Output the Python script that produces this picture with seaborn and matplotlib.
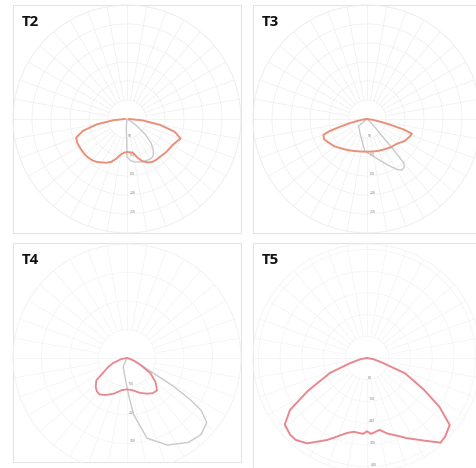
import numpy as np
import matplotlib
matplotlib.use("Agg")
import matplotlib.pyplot as plt
from matplotlib.patches import Rectangle
import seaborn as sns

# Light distribution curves, angle from nadir in degrees (+ = right), values in cd/klm
t2_red_ang = [-90, -85, -80, -75, -70, -65, -60, -55, -50, -45, -40, -35, -30, -25, -20, -15, -10, -5, 0,
              5, 10, 15, 20, 25, 30, 35, 40, 45, 50, 55, 60, 65, 70, 75, 80, 85, 90]
t2_red_val = [5, 35, 80, 120, 142, 145, 145, 145, 145, 144, 142, 138, 132, 127, 120, 108, 95, 89, 87,
              88, 90, 105, 118, 126, 131, 132, 132, 133, 135, 136, 138, 143, 150, 130, 88, 40, 5]
t2_gray_ang = [-10, -5, 0, 5, 10, 20, 30, 35, 40, 45, 50, 55, 60, 65]
t2_gray_val = [0, 20, 100, 110, 115, 120, 122, 120, 108, 90, 62, 32, 10, 0]

t3_red_ang = [-90, -82, -78, -76, -74, -72, -70, -65, -60, -50, -40, -30, -20, -10, 0,
              10, 20, 30, 40, 50, 60, 68, 72, 74, 76, 78, 82, 90]
t3_red_val = [0, 12, 30, 50, 75, 105, 122, 125, 120, 112, 102, 95, 90, 87, 86,
              87, 89, 92, 97, 102, 115, 122, 124, 100, 65, 40, 15, 0]
t3_gray_ang = [-55, -50, -40, -27, -15, -4, 0, 10, 17, 25, 30, 34, 38, 40, 41, 42, 44, 48, 55]
t3_gray_val = [0, 30, 32, 41, 55, 85, 88, 100, 113, 135, 152, 163, 160, 150, 100, 50, 30, 10, 0]

t4_red_ang = [-90, -80, -70, -64, -58, -54, -47, -42, -37, -30, -20, -10, 0,
              10, 20, 29, 36, 43, 50, 57, 63, 70, 80, 90]
t4_red_val = [0, 20, 52, 75, 100, 133, 150, 158, 160, 150, 133, 115, 110,
              115, 130, 143, 153, 155, 130, 98, 52, 25, 5, 0]
t4_gray_ang = [-30, -24, -12, -3, 2, 6.5, 14, 25, 36, 44, 51, 54.7, 56.5, 58.6, 60, 63, 67, 75]
t4_gray_val = [0, 33, 50, 80, 125, 198, 290, 337, 366, 374, 360, 320, 270, 194, 110, 60, 25, 0]

t5_red_ang = [-90, -80, -73, -68, -61, -56, -51, -45, -41, -35, -26, -23, -15, -10, -3, 0,
              3, 10, 15, 23, 26, 35, 41, 45, 51, 56, 61, 68, 73, 80, 90]
t5_red_val = [0, 24, 66, 147, 248, 342, 390, 400, 400, 384, 336, 320, 286, 276, 280, 270,
              280, 269, 288, 314, 328, 372, 413, 408, 392, 322, 238, 152, 60, 24, 0]

W, H = 477, 468
RED_A = "#e8907a"
RED_B = "#e8878f"
GRAY = "#cacaca"

sns.set_theme(style="white")
plt.rcParams["font.family"] = ["Open Sans", "DejaVu Sans"]

fig = plt.figure(figsize=(W / 100, H / 100), dpi=100)
fig.patch.set_facecolor("white")

# nlab = how many ring labels are printed along the nadir ray
panels = [
    dict(name="T2", box=(13, 5, 241, 233), center=(127, 119), rmax=300, step=50, nlab=5,
         grid="#eeeeee",
         curves=[(t2_gray_ang, t2_gray_val, GRAY, 1.0), (t2_red_ang, t2_red_val, RED_A, 1.4)]),
    dict(name="T3", box=(253, 5, 477, 233), center=(367, 119), rmax=300, step=50, nlab=5,
         grid="#eeeeee",
         curves=[(t3_gray_ang, t3_gray_val, GRAY, 1.0), (t3_red_ang, t3_red_val, RED_A, 1.4)]),
    dict(name="T4", box=(13, 243, 241, 462), center=(127, 358), rmax=400, step=100, nlab=3,
         grid="#f3f3f3",
         curves=[(t4_gray_ang, t4_gray_val, GRAY, 1.0), (t4_red_ang, t4_red_val, RED_B, 1.3)]),
    dict(name="T5", box=(253, 243, 477, 468), center=(367, 358), rmax=420, step=80, nlab=5,
         grid="#f3f3f3",
         curves=[(t5_red_ang, t5_red_val, RED_B, 1.4)]),
]

R = 114
for p in panels:
    x0, y0, x1, y1 = p["box"]
    fig.add_artist(Rectangle((x0 / W, 1 - y1 / H), (x1 - x0) / W, (y1 - y0) / H,
                             transform=fig.transFigure, facecolor="white",
                             edgecolor="#e4e4e4", lw=0.8, zorder=0))

    cx, cy = p["center"]
    ax = fig.add_axes([(cx - R) / W, 1 - (cy + R) / H, 2 * R / W, 2 * R / H],
                      projection="polar")
    ax.set_facecolor("none")
    ax.set_theta_zero_location("S")
    ax.set_ylim(0, p["rmax"])

    # grid: rings + radial lines starting from the first ring
    g = p["grid"]
    ax.set_xticks(np.deg2rad(np.arange(0, 360, 10)))
    ax.set_xticklabels([])
    ax.xaxis.grid(False)
    for a in np.arange(0, 360, 10):
        r0 = 0 if a in (90, 270) else p["step"]
        ax.plot([np.deg2rad(a)] * 2, [r0, p["rmax"]], color=g, lw=0.5, zorder=0)
    rt = np.arange(p["step"], p["rmax"] + 1, p["step"])
    ax.set_yticks(rt)
    ax.set_yticklabels([str(v) if i < p["nlab"] else "" for i, v in enumerate(rt)],
                       fontsize=2.5, color="#7a7a7a")
    ax.set_rlabel_position(2)
    ax.yaxis.grid(True, color=g, lw=0.5)
    ax.spines["polar"].set_color(g)
    ax.spines["polar"].set_linewidth(0.6)
    ax.tick_params(pad=0)

    for ang, val, col, lw in p["curves"]:
        sns.lineplot(x=np.deg2rad(ang), y=val, ax=ax, sort=False, estimator=None,
                     color=col, lw=lw)
    ax.set_xlabel("")
    ax.set_ylabel("")

    fig.text((x0 + 8.5) / W, 1 - (y0 + 20.7) / H, p["name"], fontsize=10.8,
             fontweight="bold", color="#111111", ha="left", va="baseline")

# trim circle overflow below the T4 box
fig.add_artist(Rectangle((0, 0), 247 / W, (H - 462.5) / H, transform=fig.transFigure,
                         facecolor="white", edgecolor="none", zorder=10))

fig.savefig("out.png", dpi=100)
